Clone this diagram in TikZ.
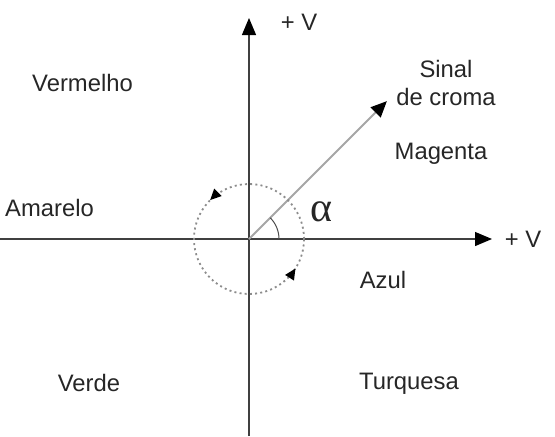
\documentclass[tikz,border=0pt]{standalone}
\usepackage{fontspec}
\setmainfont{Liberation Sans}
\newfontfamily\greekfont{Liberation Serif}
\usetikzlibrary{arrows.meta,decorations.markings}
\tikzset{
	axis/.style={draw=black!75, line width=0.6pt, -{Triangle[length=8.5pt,width=7pt,color=black]}},
	lab/.style={font=\fontsize{11.9}{13.6}\selectfont, text=black!85, inner sep=0pt, align=center},
	rot/.style={decoration={
			markings,
			mark=at position 0.375 with {\arrow{Triangle[length=5.5pt,width=5pt,color=black]}},
			mark=at position 0.91 with {\arrow{Triangle[length=5.5pt,width=5pt,color=black]}}},postaction={decorate}}
}

\begin{document}
\begin{tikzpicture}[x=0.5pt,y=0.5pt]
	\useasboundingbox (-249,-197) rectangle (306,239);
	\coordinate (O) at (0,0);
	\coordinate (xl) at (-249,0);
	\coordinate (xr) at (243,0);
	\coordinate (yb) at (0,-197);
	\coordinate (yt) at (0,221);
	\coordinate (c) at (45:195);
	
	\draw[axis] (xl) -- (xr);
	\draw[axis] (yb) -- (yt);
	\draw[black!35, line width=1pt, -{Triangle[length=8pt,width=7pt,color=black]}] (O) -- (c);
	\draw[black!45, line width=0.9pt, dash pattern=on 1pt off 1.6pt, rot] (O) circle (55);
	\draw[black!70, line width=0.5pt] (30,0) arc (0:45:30);
	
	\node[lab] (vy) at (50,217) {+ V};
	\node[lab] (vx) at (274,0) {+ V};
	\node[lab] (sinal) at (197,156) {Sinal\\de croma};
	\node[lab, font=\greekfont\fontsize{21}{23}\selectfont] (alpha) at (72,27) {α};
	\node[lab] (vermelho) at (-166.5,156) {Vermelho};
	\node[lab] (magenta) at (192,85) {Magenta};
	\node[lab] (amarelo) at (-199.5,31) {Amarelo};
	\node[lab] (azul) at (134,-41) {Azul};
	\node[lab] (verde) at (-160,-144) {Verde};
	\node[lab] (turquesa) at (160,-145) {Turquesa};
\end{tikzpicture}
\end{document}
